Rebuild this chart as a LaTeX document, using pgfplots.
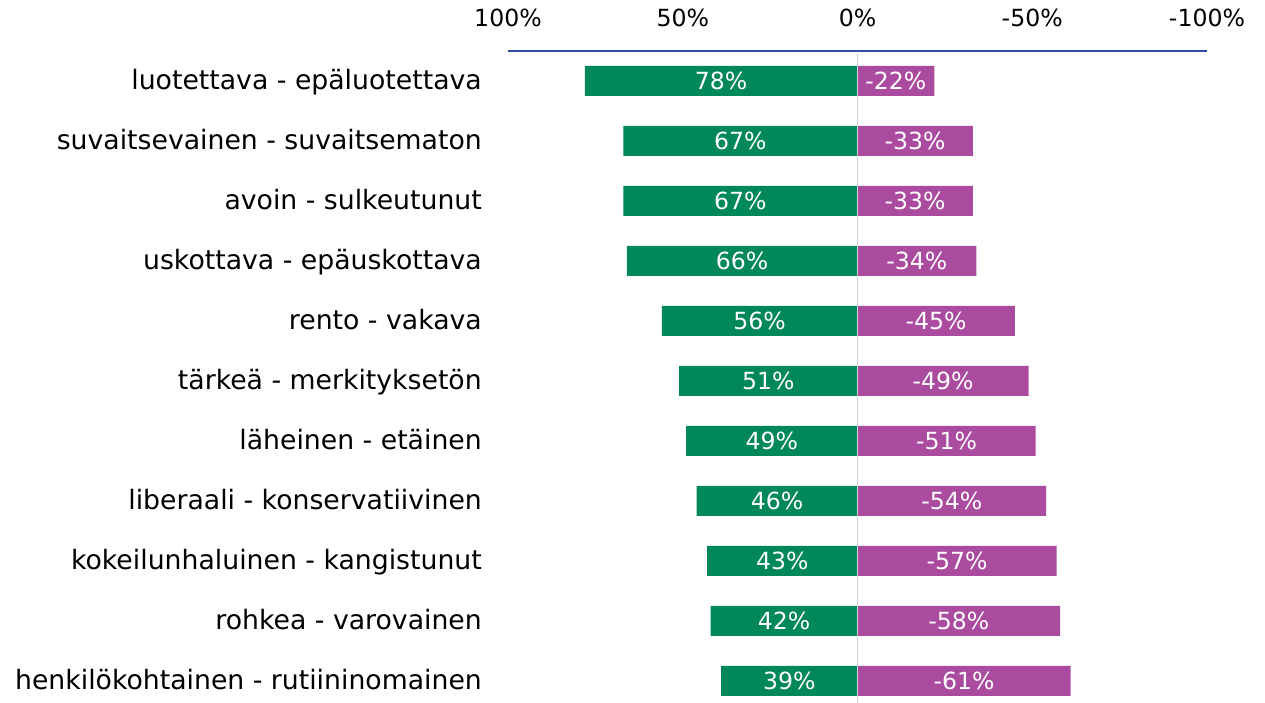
\documentclass[border=0pt]{standalone}
\usepackage{pgfplots}
\pgfplotsset{compat=1.18}
\usepackage{pgfplotstable}
\usepackage{fontspec}
\setmainfont{DejaVu Sans}
\definecolor{grn}{HTML}{00875A}
\definecolor{pur}{HTML}{AA4BA0}
\definecolor{axblue}{HTML}{2F4B9B}
\definecolor{zline}{HTML}{D4D4D4}
\pgfplotstableread{
row g p
0 78 -22
1 67 -33
2 67 -33
3 66 -34
4 56 -45
5 51 -49
6 49 -51
7 46 -54
8 43 -57
9 42 -58
10 39 -61
}\data
\begin{document}
\begin{tikzpicture}
\begin{axis}[
  scale only axis, width=699bp, height=652bp,
  x dir=reverse, y dir=reverse,
  xmin=-100, xmax=100, ymin=-0.5, ymax=10.367,
  clip=false,
  axis x line*=top, axis y line*=left,
  x axis line style={draw=axblue, line width=1.3bp, -},
  y axis line style={draw=none},
  major tick length=0pt,
  xtick={100,50,0,-50,-100},
  xticklabels={100\%,50\%,0\%,-50\%,-100\%},
  xticklabel style={font=\fontsize{23.6bp}{28bp}\selectfont, inner sep=0pt, anchor=south, yshift=24bp},
  ytick={0,1,2,3,4,5,6,7,8,9,10},
  yticklabels={luotettava - epäluotettava, suvaitsevainen - suvaitsematon, avoin - sulkeutunut, uskottava - epäuskottava, rento - vakava, tärkeä - merkityksetön, läheinen - etäinen, liberaali - konservatiivinen, kokeilunhaluinen - kangistunut, rohkea - varovainen, henkilökohtainen - rutiininomainen},
  yticklabel style={font=\fontsize{26.7bp}{30bp}\selectfont, inner sep=0pt, anchor=base east, xshift=-26bp, yshift=-9bp},
]
\addplot[xbar, bar width=30bp, bar shift=0pt, fill=grn, draw=none] table[x=g, y=row]{\data};
\addplot[xbar, bar width=30bp, bar shift=0pt, fill=pur, draw=none] table[x=p, y=row]{\data};
\draw[zline, line width=1.6bp] (axis cs:0,-0.47) -- (axis cs:0,10.367);
\addplot[draw=none, nodes near coords={\pgfplotspointmeta\%}, point meta=explicit symbolic,
  every node near coord/.append style={text=white, anchor=center, inner sep=0pt, font=\fontsize{23.6bp}{28bp}\selectfont}]
  table[x expr=\thisrow{g}/2, y=row, meta=g]{\data};
\addplot[draw=none, nodes near coords={\pgfplotspointmeta\%}, point meta=explicit symbolic,
  every node near coord/.append style={text=white, anchor=center, inner sep=0pt, font=\fontsize{23.6bp}{28bp}\selectfont}]
  table[x expr=\thisrow{p}/2, y=row, meta=p]{\data};
\coordinate (bbA) at (axis cs:245.35,-1.35);
\coordinate (bbB) at (axis cs:-116.6,10.367);
\end{axis}
\pgfresetboundingbox
\path[use as bounding box] (bbA) rectangle (bbB);
\end{tikzpicture}
\end{document}
